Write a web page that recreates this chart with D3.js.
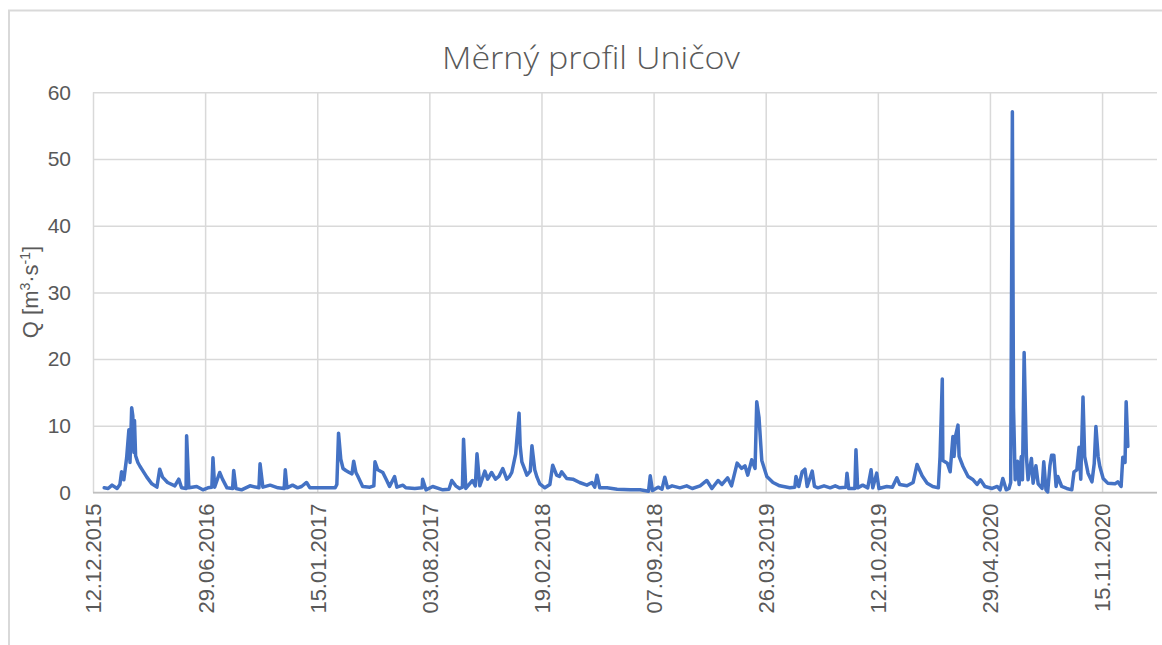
<!DOCTYPE html>
<html><head><meta charset="utf-8">
<script src="https://cdn.jsdelivr.net/npm/d3@7"></script>
<style>body{margin:0;background:#fff} svg{display:block}</style>
</head><body><svg id="chart" width="1162" height="645"></svg>
<script>
const chartTitle = "Měrný profil Uničov";
const xTickLabels = ["12.12.2015","29.06.2016","15.01.2017","03.08.2017","19.02.2018","07.09.2018","26.03.2019","12.10.2019","29.04.2020","15.11.2020"];
const yTicks = [0,10,20,30,40,50,60];

const flow2016 = [["2016-01-01",0.7],["2016-01-08",0.6],["2016-01-15",1.1],["2016-01-24",0.6],["2016-01-29",1.2],["2016-02-01",3.1],["2016-02-05",1.9],["2016-02-10",5.2],["2016-02-14",9.4],["2016-02-16",4.5],["2016-02-19",12.7],["2016-02-21",11.5],["2016-02-23",6.0],["2016-02-24",10.8],["2016-02-26",5.5],["2016-03-01",4.5],["2016-03-05",3.9],["2016-03-08",3.5],["2016-03-17",2.3],["2016-03-26",1.3],["2016-04-04",0.8],["2016-04-09",3.5],["2016-04-14",2.3],["2016-04-23",1.5],["2016-05-06",1.0],["2016-05-13",2.0],["2016-05-18",0.7],["2016-05-26",0.6],["2016-05-27",8.5],["2016-05-31",0.7],["2016-06-14",0.9],["2016-06-25",0.4],["2016-07-04",0.7],["2016-07-11",0.8],["2016-07-13",5.2],["2016-07-16",0.8],["2016-07-25",3.0],["2016-07-30",2.0],["2016-08-07",0.7],["2016-08-17",0.6],["2016-08-19",3.3],["2016-08-23",0.6],["2016-09-02",0.4],["2016-09-17",1.0],["2016-10-03",0.7],["2016-10-05",4.3],["2016-10-10",0.8],["2016-10-23",1.1],["2016-11-06",0.7],["2016-11-17",0.6],["2016-11-19",3.4],["2016-11-22",0.7],["2016-12-02",1.1],["2016-12-11",0.7],["2016-12-18",0.9],["2016-12-27",1.5]];
const flow2017 = [["2017-01-02",0.7],["2017-01-20",0.7],["2017-02-16",0.7],["2017-02-19",1.2],["2017-02-22",8.9],["2017-02-26",5.0],["2017-03-02",3.6],["2017-03-07",3.3],["2017-03-13",3.0],["2017-03-18",2.8],["2017-03-21",4.7],["2017-03-25",3.0],["2017-03-28",2.5],["2017-04-06",0.9],["2017-04-19",0.8],["2017-04-26",1.0],["2017-04-28",4.6],["2017-05-03",3.4],["2017-05-12",3.0],["2017-05-19",1.8],["2017-05-24",0.9],["2017-06-02",2.4],["2017-06-06",0.8],["2017-06-17",1.1],["2017-06-22",0.7],["2017-07-08",0.6],["2017-07-21",0.7],["2017-07-22",2.0],["2017-07-28",0.4],["2017-08-09",0.9],["2017-08-27",0.4],["2017-09-07",0.5],["2017-09-12",1.8],["2017-09-19",1.0],["2017-09-26",0.6],["2017-10-01",0.8],["2017-10-03",8.0],["2017-10-07",0.6],["2017-10-19",1.8],["2017-10-24",1.0],["2017-10-27",5.8],["2017-11-01",1.0],["2017-11-10",3.2],["2017-11-15",2.0],["2017-11-22",3.0],["2017-11-29",2.0],["2017-12-05",2.4],["2017-12-12",3.6],["2017-12-19",2.0],["2017-12-24",2.4],["2017-12-28",3.0]];
const flow2018 = [["2018-01-04",5.8],["2018-01-10",11.9],["2018-01-12",7.0],["2018-01-15",4.6],["2018-01-20",3.5],["2018-01-24",2.6],["2018-01-30",3.2],["2018-02-02",7.0],["2018-02-07",3.4],["2018-02-11",2.3],["2018-02-16",1.3],["2018-02-25",0.7],["2018-03-06",1.2],["2018-03-11",4.1],["2018-03-18",2.6],["2018-03-23",2.4],["2018-03-27",3.1],["2018-04-05",2.1],["2018-04-16",2.0],["2018-04-28",1.5],["2018-05-11",1.1],["2018-05-20",1.5],["2018-05-25",0.8],["2018-05-29",2.6],["2018-06-03",0.7],["2018-06-16",0.7],["2018-07-04",0.5],["2018-07-28",0.4],["2018-08-14",0.4],["2018-08-29",0.2],["2018-09-01",2.5],["2018-09-05",0.3],["2018-09-15",0.8],["2018-09-22",0.5],["2018-09-27",2.3],["2018-10-02",0.7],["2018-10-10",1.0],["2018-10-24",0.7],["2018-11-05",1.0],["2018-11-15",0.6],["2018-11-29",1.0],["2018-12-11",1.8],["2018-12-20",0.6],["2018-12-31",1.8]];
const flow2019 = [["2019-01-07",1.2],["2019-01-17",2.2],["2019-01-24",1.0],["2019-02-03",4.4],["2019-02-11",3.6],["2019-02-17",4.0],["2019-02-22",2.6],["2019-03-01",4.9],["2019-03-07",3.6],["2019-03-10",13.6],["2019-03-14",11.3],["2019-03-19",4.8],["2019-03-28",2.4],["2019-04-08",1.5],["2019-04-20",1.0],["2019-05-08",0.7],["2019-05-17",0.8],["2019-05-19",2.4],["2019-05-24",0.9],["2019-05-30",3.1],["2019-06-04",3.5],["2019-06-08",0.9],["2019-06-17",3.2],["2019-06-21",0.9],["2019-06-27",0.7],["2019-07-08",1.0],["2019-07-19",0.7],["2019-07-28",1.0],["2019-08-05",0.7],["2019-08-16",0.8],["2019-08-18",2.9],["2019-08-21",0.6],["2019-09-01",0.6],["2019-09-03",6.4],["2019-09-06",0.7],["2019-09-15",1.1],["2019-09-24",0.7],["2019-09-30",3.4],["2019-10-03",0.7],["2019-10-10",2.9],["2019-10-14",0.6],["2019-10-28",0.9],["2019-11-07",0.8],["2019-11-15",2.2],["2019-11-20",1.2],["2019-12-03",1.0],["2019-12-14",1.5],["2019-12-21",4.2],["2019-12-30",2.5]];
const flow2020 = [["2020-01-08",1.4],["2020-01-18",0.9],["2020-01-28",0.7],["2020-01-31",5.4],["2020-02-04",17.0],["2020-02-05",4.8],["2020-02-13",4.4],["2020-02-18",3.1],["2020-02-23",8.4],["2020-02-25",5.4],["2020-02-28",8.6],["2020-03-03",10.1],["2020-03-05",5.4],["2020-03-12",3.9],["2020-03-21",2.4],["2020-03-30",1.9],["2020-04-06",1.2],["2020-04-12",1.9],["2020-04-20",0.9],["2020-05-03",0.6],["2020-05-12",0.9],["2020-05-17",0.4],["2020-05-22",2.1],["2020-05-28",0.4],["2020-06-02",0.6],["2020-06-05",1.5],["2020-06-08",57.1],["2020-06-10",12.8],["2020-06-13",1.9],["2020-06-17",4.7],["2020-06-20",1.2],["2020-06-24",5.4],["2020-06-26",1.9],["2020-06-29",21.0],["2020-07-03",5.4],["2020-07-06",1.9],["2020-07-12",5.1],["2020-07-15",1.4],["2020-07-20",4.0],["2020-07-24",1.3],["2020-07-31",0.6],["2020-08-03",4.6],["2020-08-07",0.4],["2020-08-10",0.1],["2020-08-14",4.0],["2020-08-17",5.6],["2020-08-21",5.6],["2020-08-25",0.9],["2020-08-28",2.4],["2020-09-04",0.9],["2020-09-13",0.6],["2020-09-22",0.4],["2020-09-26",3.1],["2020-10-01",3.4],["2020-10-05",6.8],["2020-10-08",2.0],["2020-10-12",14.3],["2020-10-15",5.4],["2020-10-21",2.9],["2020-10-28",1.6],["2020-11-01",4.3],["2020-11-04",9.9],["2020-11-08",5.4],["2020-11-11",3.9],["2020-11-17",2.1],["2020-11-25",1.4],["2020-12-08",1.3],["2020-12-13",1.6],["2020-12-19",0.9],["2020-12-22",5.3],["2020-12-26",4.5],["2020-12-28",13.6],["2020-12-31",6.9]];

const svg = d3.select("#chart");
const font = "'Liberation Sans', Arial, sans-serif";
const textColor = "#595959";
const gridColor = "#d9d9d9";
const plot = {left: 93, right: 1157, top: 92.3, bottom: 492.5};

const parseDay = d3.utcParse("%Y-%m-%d");
const parseTick = d3.utcParse("%d.%m.%Y");
const tickDates = xTickLabels.map(parseTick);
const series = [].concat(flow2016, flow2017, flow2018, flow2019, flow2020)
  .map(([d, v]) => ({date: parseDay(d), v}));

const x = d3.scaleUtc()
  .domain([tickDates[0], d3.utcDay.offset(tickDates[0], 1898)])
  .range([plot.left, plot.right]);
const y = d3.scaleLinear().domain([0, 60]).range([plot.bottom, plot.top]);

// chart area frame
svg.append("rect").attr("x", 0).attr("y", 0).attr("width", 1162).attr("height", 645).attr("fill", "#fff");
svg.append("rect").attr("x", 9).attr("y", 10.5).attr("width", 1180).attr("height", 700)
  .attr("fill", "#fff").attr("stroke", gridColor).attr("stroke-width", 2);

// title
svg.append("text").attr("x", 591).attr("y", 69).attr("text-anchor", "middle")
  .attr("font-family", "'Open Sans', 'Liberation Sans', sans-serif").attr("font-weight", 300)
  .attr("font-size", 31).attr("fill", textColor)
  .attr("textLength", 298).attr("lengthAdjust", "spacingAndGlyphs")
  .text(chartTitle);

// y axis with horizontal gridlines
const yAxis = svg.append("g").attr("transform", `translate(${plot.left},0)`)
  .call(d3.axisLeft(y).tickValues(yTicks).tickSize(-(plot.right - plot.left)).tickPadding(22).tickFormat(d3.format("d")));
yAxis.select(".domain").remove();
yAxis.selectAll(".tick line").attr("stroke", gridColor).attr("stroke-width", 1.5);
yAxis.selectAll(".tick text").attr("font-family", font).attr("font-size", 21).attr("fill", textColor);

// x axis with vertical gridlines
const xAxis = svg.append("g").attr("transform", `translate(0,${plot.bottom})`)
  .call(d3.axisBottom(x).tickValues(tickDates).tickSize(-(plot.bottom - plot.top)).tickFormat((d, i) => xTickLabels[i]));
xAxis.select(".domain").remove();
xAxis.selectAll(".tick line").attr("stroke", gridColor).attr("stroke-width", 1.5);
xAxis.selectAll(".tick text")
  .attr("font-family", font).attr("font-size", 22).attr("fill", textColor)
  .attr("text-anchor", "end").attr("transform", "rotate(-90)")
  .attr("x", -11).attr("y", 0).attr("dy", "0.36em");

// base axis line
svg.append("line").attr("x1", plot.left).attr("x2", plot.right)
  .attr("y1", y(0)).attr("y2", y(0)).attr("stroke", "#bfbfbf").attr("stroke-width", 1.5);

// y axis title
const yt = svg.append("text").attr("transform", "translate(38,292) rotate(-90)")
  .attr("text-anchor", "middle").attr("font-family", font).attr("font-size", 22).attr("fill", textColor);
yt.append("tspan").text("Q [m");
yt.append("tspan").attr("font-size", 14).attr("dy", -8).text("3");
yt.append("tspan").attr("dy", 8).text("·s");
yt.append("tspan").attr("font-size", 14).attr("dy", -8).text("-1");
yt.append("tspan").attr("dy", 8).text("]");

// data line
svg.append("path").datum(series)
  .attr("fill", "none").attr("stroke", "#4472C4").attr("stroke-width", 3.5)
  .attr("stroke-linejoin", "round").attr("stroke-linecap", "round")
  .attr("d", d3.line().x(d => x(d.date)).y(d => y(d.v)));
</script></body></html>
